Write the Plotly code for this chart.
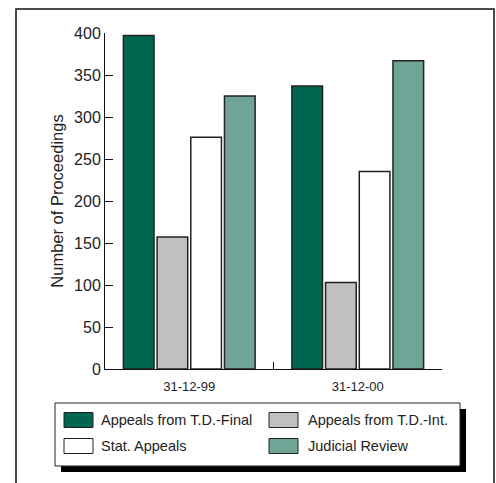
import plotly.graph_objects as go

categories = ["31-12-99", "31-12-00"]
series_names = ["Appeals from T.D.-Final", "Appeals from T.D.-Int.", "Stat. Appeals", "Judicial Review"]
values_final = [397, 337]
values_int = [157, 103]
values_stat = [276, 235]
values_jr = [325, 367]
colors = ["#00664f", "#c0c0c0", "#ffffff", "#6fa496"]

series_values = [values_final, values_int, values_stat, values_jr]

W, H = 496, 483
ml, mr, mt, mb = 105, 54, 33, 114
pw, ph = W - ml - mr, H - mt - mb

def px(x):
    return (x - ml) / pw

def py(y):
    return (H - mb - y) / ph

fig = go.Figure()
for name, vals, col in zip(series_names, series_values, colors):
    fig.add_trace(go.Bar(
        x=categories, y=vals, name=name,
        marker=dict(color=col, line=dict(color="#222222", width=1.5)),
        showlegend=False,
    ))

font = "Liberation Sans, Arial, Helvetica, sans-serif"
shapes = []
annotations = []
# outer frame (open at bottom, cropped)
shapes.append(dict(type="rect", xref="paper", yref="paper",
                   x0=px(16), x1=px(494), y0=py(495), y1=py(9),
                   line=dict(color="#111111", width=1.5), fillcolor="rgba(0,0,0,0)", layer="below"))
# legend shadow + box
shapes.append(dict(type="rect", xref="paper", yref="paper",
                   x0=px(61), x1=px(466), y0=py(472), y1=py(409),
                   line=dict(width=0), fillcolor="#000000"))
shapes.append(dict(type="rect", xref="paper", yref="paper",
                   x0=px(55), x1=px(460), y0=py(466), y1=py(403),
                   line=dict(color="#222222", width=1), fillcolor="#ffffff"))
# legend entries
col_x = [64, 269]
text_x = [99, 306]
row_y = [420, 446]
for i, (name, col) in enumerate(zip(series_names, colors)):
    c, r = i % 2, i // 2
    x0 = col_x[c]
    yc = row_y[r]
    shapes.append(dict(type="rect", xref="paper", yref="paper",
                       x0=px(x0), x1=px(x0 + 29), y0=py(yc + 7.5), y1=py(yc - 7.5),
                       line=dict(color="#222222", width=1), fillcolor=col))
    annotations.append(dict(xref="paper", yref="paper", x=px(text_x[c]), y=py(yc),
                            xanchor="left", yanchor="middle", showarrow=False,
                            text=name, font=dict(family=font, size=14.5, color="#222222")))

fig.update_layout(
    width=W, height=H,
    margin=dict(l=ml, r=mr, t=mt, b=mb, pad=0),
    paper_bgcolor="white", plot_bgcolor="white",
    barmode="group", bargap=0.2, bargroupgap=0.09,
    font=dict(family=font, color="#222222"),
    shapes=shapes, annotations=annotations,
    xaxis=dict(showline=True, linecolor="#111111", linewidth=1,
               ticks="inside", tickson="boundaries", ticklen=7, tickcolor="#111111",
               tickfont=dict(size=13), ticklabelstandoff=5,
               showgrid=False, zeroline=False),
    yaxis=dict(range=[0, 400], dtick=50, showline=True, linecolor="#111111", linewidth=1,
               ticks="inside", ticklen=8, tickcolor="#111111",
               tickfont=dict(size=16), showgrid=False, zeroline=False,
               title=dict(text="Number of Proceedings", font=dict(size=16.5), standoff=6)),
)

fig.write_html("out.html")
